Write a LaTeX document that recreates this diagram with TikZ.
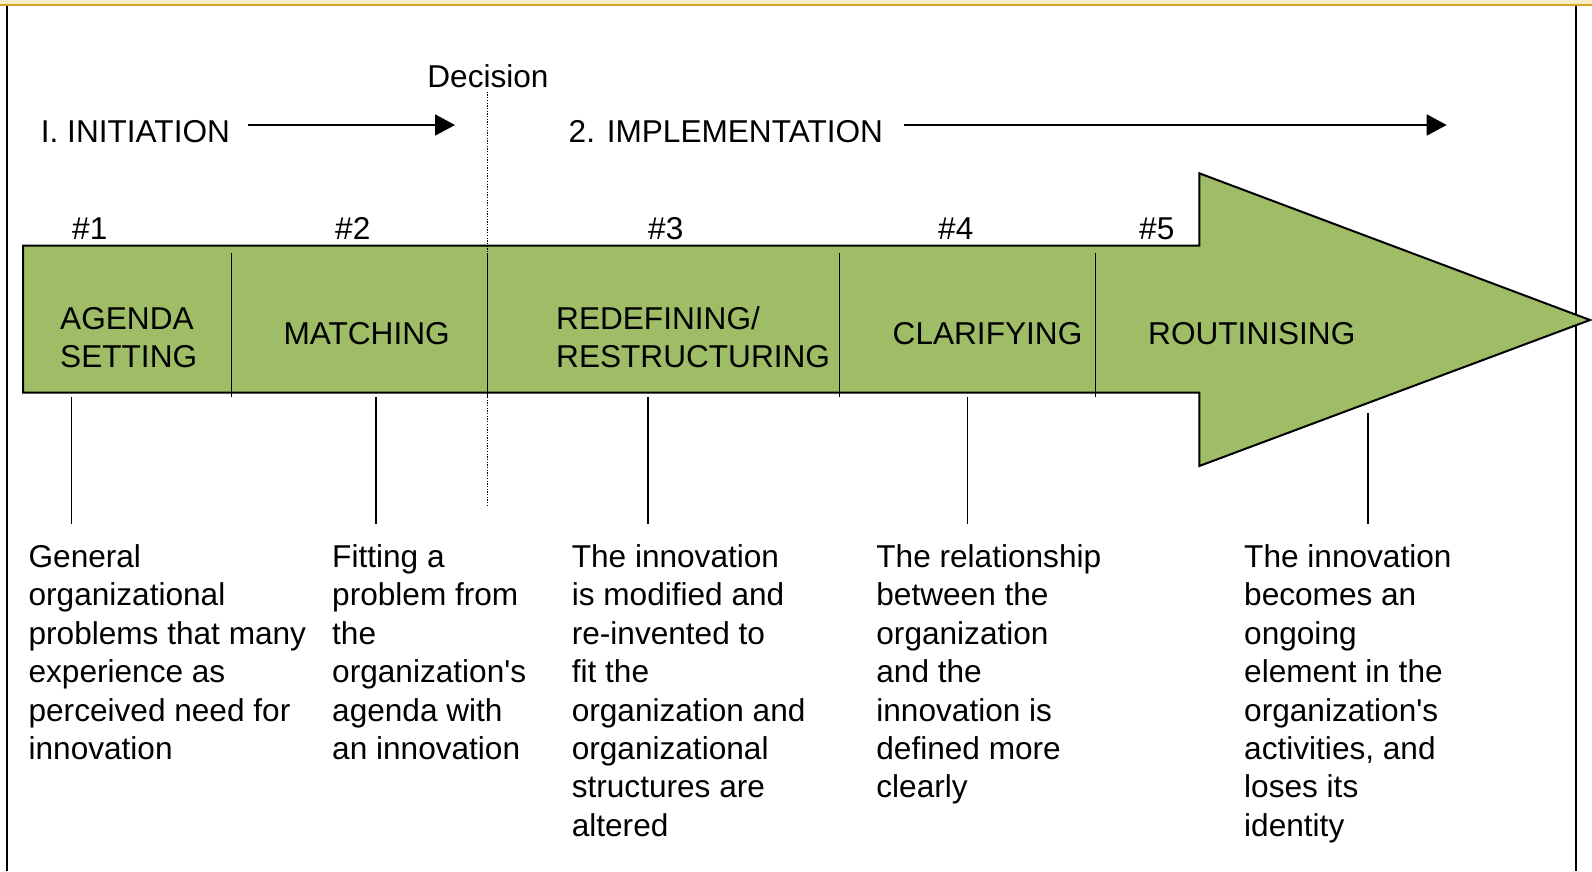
\documentclass[tikz,border=0pt]{standalone}
\usepackage{fontspec}
\setmainfont{Liberation Sans}[Ligatures=TeXOff]
\usetikzlibrary{arrows.meta}
\definecolor{stagegreen}{RGB}{158,189,102}
\definecolor{bandpale}{RGB}{247,236,201}
\definecolor{bandgold}{RGB}{218,162,36}
% invisible rule fixing the top of the first line of multi-line labels
\newcommand\capstrut{\rule{0pt}{25pt}}
\begin{document}
\begin{tikzpicture}[x=1pt,y=-1pt,
  lbl/.style={inner sep=0pt, anchor=base west, font=\fontsize{31.6}{38.4}\selectfont},
  block/.style={lbl, align=left, anchor=north west},
  phasearrow/.style={line width=1.8pt, -{Triangle[length=20pt,width=21pt]}},
  divider/.style={line width=1.5pt},
  leader/.style={line width=1.5pt},
  frameline/.style={line width=2pt}
]
\useasboundingbox (0,0) rectangle (1592,871);

% frame: pale top band with gold rule, side lines
\fill[bandpale] (0,0) rectangle (1592,4);
\fill[bandgold] (0,4) rectangle (1592,6.3);
\draw[frameline] (7,6) -- (7,871);
\draw[frameline] (1575.7,6) -- (1575.7,871);

% process arrow
\filldraw[fill=stagegreen, draw=black, line width=2pt]
  (23,245.7) -- (1199.3,245.7) -- (1199.3,173.3) -- (1590,320)
  -- (1199.3,466) -- (1199.3,392.7) -- (23,392.7) -- cycle;

% decision boundary
\draw[line width=1.3pt, dash pattern=on 1.3pt off 1.4pt] (487.7,91.7) -- (487.7,505);

% stage dividers
\foreach \x in {231.7,487.7,839.7,1095.5}
  \draw[divider] (\x,252.7) -- (\x,396.7);

% phase headings
\node[lbl] (init) at (40.7,142.7) {I. INITIATION};
\node[lbl] (impl) at (568.5,142.7) {2. IMPLEMENTATION};
\node[lbl, anchor=base] (decision) at (488,87.7) {Decision};
\coordinate (initfrom) at (248,125);
\coordinate (initto) at (455,125);
\coordinate (implfrom) at (903.6,125);
\coordinate (implto) at (1446.7,125);
\draw[phasearrow] (initfrom) -- (initto);
\draw[phasearrow] (implfrom) -- (implto);

% stage numbers
\node[lbl] (n1) at (72,239) {\#1};
\node[lbl] (n2) at (335,239) {\#2};
\node[lbl] (n3) at (648,239) {\#3};
\node[lbl] (n4) at (938,239) {\#4};
\node[lbl] (n5) at (1139,239) {\#5};

% stage names
\node[block] (s1) at (60,304) {\capstrut AGENDA\\SETTING};
\node[lbl] (s2) at (283.3,344.5) {MATCHING};
\node[block] (s3) at (556,304) {\capstrut REDEFINING/\\RESTRUCTURING};
\node[lbl] (s4) at (892.5,344.5) {CLARIFYING};
\node[lbl] (s5) at (1148,344.5) {ROUTINISING};

% descriptions
\node[block] (d1) at (28.4,542.3) {\capstrut General\\organizational\\problems that many\\experience as\\perceived need for\\innovation};
\node[block] (d2) at (332,542.3) {\capstrut Fitting a\\problem from\\the\\organization's\\agenda with\\an innovation};
\node[block] (d3) at (571.6,542.3) {\capstrut The innovation\\is modified and\\re-invented to\\fit the\\organization and\\organizational\\structures are\\altered};
\node[block] (d4) at (876.2,542.3) {\capstrut The relationship\\between the\\organization\\and the\\innovation is\\defined more\\clearly};
\node[block] (d5) at (1244,542.3) {\capstrut The innovation\\becomes an\\ongoing\\element in the\\organization's\\activities, and\\loses its\\identity};

% leaders from the arrow down to the descriptions
\coordinate (l1a) at (71.7,396.7);   \coordinate (l1b) at (71.7,524);
\coordinate (l2a) at (376,396.7);    \coordinate (l2b) at (376,524);
\coordinate (l3a) at (647.8,396.7);  \coordinate (l3b) at (647.8,524);
\coordinate (l4a) at (967.6,396.7);  \coordinate (l4b) at (967.6,524);
\coordinate (l5a) at (1368,413);     \coordinate (l5b) at (1368,524);
\foreach \i in {1,...,5}
  \draw[leader] (l\i a) -- (l\i b);
\end{tikzpicture}
\end{document}
